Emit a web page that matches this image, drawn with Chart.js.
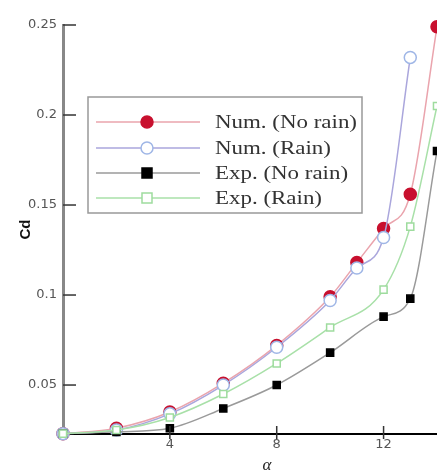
<!DOCTYPE html>
<html><head><meta charset="utf-8">
<script src="https://cdn.jsdelivr.net/npm/chart.js@4/dist/chart.umd.min.js"></script>
<style>html,body{margin:0;padding:0;background:#fff;}#wrap{width:437px;height:476px;}</style>
</head><body><div id="wrap"><canvas id="c" width="437" height="476"></canvas></div>
<script>
const alphaNumNoRain = [0, 2, 4, 6, 8, 10, 11, 12, 13, 14];
const cdNumNoRain    = [0.023, 0.026, 0.035, 0.051, 0.072, 0.099, 0.118, 0.137, 0.156, 0.249];
const alphaNumRain   = [0, 2, 4, 6, 8, 10, 11, 12, 13];
const cdNumRain      = [0.023, 0.025, 0.034, 0.050, 0.071, 0.097, 0.115, 0.132, 0.232];
const alphaExpNoRain = [0, 2, 4, 6, 8, 10, 12, 13, 14];
const cdExpNoRain    = [0.023, 0.024, 0.026, 0.037, 0.050, 0.068, 0.088, 0.098, 0.180];
const alphaExpRain   = [0, 2, 4, 6, 8, 10, 12, 13, 14];
const cdExpRain      = [0.023, 0.025, 0.032, 0.045, 0.062, 0.082, 0.103, 0.138, 0.205];
const seriesLabels   = ['Num. (No rain)', 'Num. (Rain)', 'Exp. (No rain)', 'Exp. (Rain)'];
const xTickValues    = [4, 8, 12];
const yTickValues    = [0.05, 0.1, 0.15, 0.2, 0.25];

const pts = (xs, ys) => xs.map((x, i) => ({x: x, y: ys[i]}));

const styles = [
  {line:'#eaa4ad', fill:'#c8102e', border:'#c8102e', shape:'circle', r:6},
  {line:'#aaa6dc', fill:'#ffffff', border:'#9fb6e6', shape:'circle', r:6},
  {line:'#9a9a9a', fill:'#000000', border:'#000000', shape:'rect', r:5},
  {line:'#a8e0a8', fill:'#ffffff', border:'#9edc9e', shape:'rect', r:5}
];
const dataSets = [pts(alphaNumNoRain, cdNumNoRain), pts(alphaNumRain, cdNumRain), pts(alphaExpNoRain, cdExpNoRain), pts(alphaExpRain, cdExpRain)];
const order = [3, 2, 1, 0];

const overlay = {
  id: 'overlay',
  afterDraw(chart) {
    const ctx = chart.ctx, xs = chart.scales.x, ys = chart.scales.y, ca = chart.chartArea;
    ctx.save();
    // tick marks
    ctx.strokeStyle = '#333'; ctx.lineWidth = 1.5;
    yTickValues.forEach(v => { const y = ys.getPixelForValue(v); ctx.beginPath(); ctx.moveTo(ca.left, y); ctx.lineTo(ca.left + 13, y); ctx.stroke(); });
    xTickValues.forEach(v => { const x = xs.getPixelForValue(v); ctx.beginPath(); ctx.moveTo(x, ca.bottom - 8); ctx.lineTo(x, ca.bottom + 5); ctx.stroke(); });
    // x title
    ctx.fillStyle = '#222'; ctx.font = 'italic 17px "Liberation Serif"'; ctx.textAlign = 'center'; ctx.textBaseline = 'middle';
    ctx.fillText('α', 267, 466);
    // legend
    const bx = 88, by = 97, bw = 274, bh = 116;
    ctx.fillStyle = '#fff'; ctx.fillRect(bx, by, bw, bh);
    ctx.strokeStyle = '#999'; ctx.lineWidth = 1.5; ctx.strokeRect(bx, by, bw, bh);
    const rows = [122, 148, 173, 198];
    ctx.font = '19px "Liberation Serif"';
    const sx = 142 / ctx.measureText(seriesLabels[0]).width;
    chart.data.datasets.forEach((ds, i) => {
      const st = styles[i], y = rows[i];
      ctx.strokeStyle = st.line; ctx.lineWidth = 1.5;
      ctx.beginPath(); ctx.moveTo(96, y); ctx.lineTo(200, y); ctx.stroke();
      ctx.fillStyle = st.fill; ctx.strokeStyle = st.border; ctx.lineWidth = 1.5;
      if (st.shape === 'circle') { ctx.beginPath(); ctx.arc(147, y, st.r, 0, Math.PI * 2); ctx.fill(); ctx.stroke(); }
      else { ctx.fillRect(147 - st.r, y - st.r, st.r * 2, st.r * 2); ctx.strokeRect(147 - st.r, y - st.r, st.r * 2, st.r * 2); }
      ctx.save();
      ctx.translate(215, y + 1); ctx.scale(sx, 1);
      ctx.fillStyle = '#333'; ctx.textAlign = 'left'; ctx.textBaseline = 'middle';
      ctx.fillText(ds.label, 0, 0);
      ctx.restore();
    });
    ctx.restore();
  }
};

new Chart(document.getElementById('c'), {
  type: 'scatter',
  data: {
    datasets: dataSets.map((d, i) => ({
      label: seriesLabels[i],
      data: d,
      showLine: true,
      borderColor: styles[i].line,
      borderWidth: 1.5,
      cubicInterpolationMode: 'monotone',
      pointStyle: styles[i].shape,
      pointRadius: styles[i].r,
      pointBackgroundColor: styles[i].fill,
      pointBorderColor: styles[i].border,
      pointBorderWidth: 1.5,
      clip: false,
      order: order[i]
    }))
  },
  options: {
    responsive: false,
    animation: false,
    events: [],
    layout: {autoPadding: false, padding: {top: 25, right: 0, bottom: 0, left: 0}},
    plugins: {legend: {display: false}, tooltip: {enabled: false}},
    scales: {
      x: {
        type: 'linear', min: 0, max: 14,
        afterBuildTicks: s => { s.ticks = xTickValues.map(v => ({value: v})); },
        afterFit: s => { s.height = 42; },
        grid: {display: false, drawTicks: false},
        border: {display: true, color: '#000', width: 2},
        ticks: {padding: 3, color: '#555', font: {family: 'DejaVu Sans', size: 13}, callback: v => String(v), maxRotation: 0}
      },
      y: {
        type: 'linear', min: 0.0228, max: 0.25,
        afterBuildTicks: s => { s.ticks = yTickValues.map(v => ({value: v})); },
        afterFit: s => { s.width = 63; },
        grid: {display: false, drawTicks: false},
        border: {display: true, color: '#888', width: 3},
        title: {display: true, text: 'Cd', color: '#111', font: {family: 'Liberation Sans', size: 15, weight: 'bold'}, padding: {top: 17, bottom: 0}},
        ticks: {padding: 6, color: '#555', font: {family: 'DejaVu Sans', size: 13}, callback: v => String(Math.round(v * 100) / 100)}
      }
    }
  },
  plugins: [overlay]
});
</script></body></html>
